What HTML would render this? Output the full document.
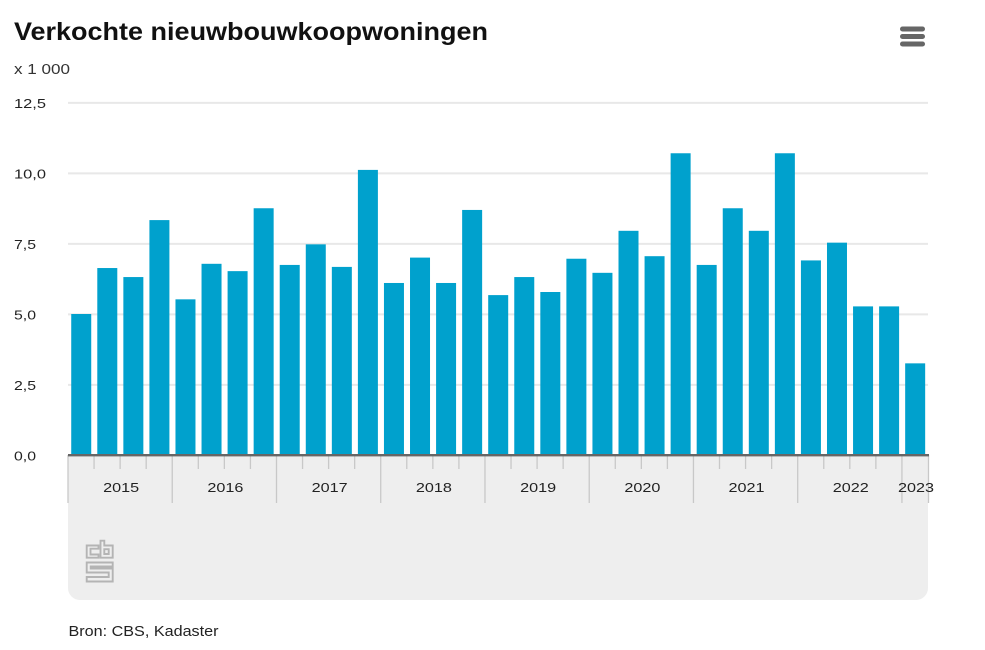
<!DOCTYPE html>
<html lang="nl">
<head>
<meta charset="utf-8">
<title>Verkochte nieuwbouwkoopwoningen</title>
<style>
html,body{margin:0;padding:0;background:#fff;width:985px;height:650px;overflow:hidden}
svg{display:block}
text{font-family:"Liberation Sans",sans-serif}
</style>
</head>
<body>
<svg id="chart" width="985" height="650" viewBox="0 0 985 650" xmlns="http://www.w3.org/2000/svg">
  <text x="14" y="40" font-size="25" font-weight="700" fill="#111" textLength="474" lengthAdjust="spacingAndGlyphs">Verkochte nieuwbouwkoopwoningen</text>
  <text x="14" y="74" font-size="14.5" fill="#333" textLength="56" lengthAdjust="spacingAndGlyphs">x 1 000</text>
  <g fill="#666">
    <rect x="900" y="26.500" width="25" height="5" rx="2.5"/>
    <rect x="900" y="34" width="25" height="5" rx="2.5"/>
    <rect x="900" y="41.500" width="25" height="5" rx="2.5"/>
  </g>
  <path d="M68 455H928V588a12 12 0 0 1-12 12H80a12 12 0 0 1-12-12Z" fill="#eeeeee"/>
  <g id="grid"></g>
  <g id="bars"></g>
  <g id="ticks"></g>
  <rect x="68" y="454" width="861" height="2.4" fill="#666"/>
  <g id="ylabels"></g>
  <g id="xlabels"></g>
  <g fill="none" stroke="#b4b4b4" stroke-width="1.900">
    <path d="M98.500 545.500H86.700V557.700H98.500V554.500H90.500V548.700H98.500Z"/>
    <path d="M100.500 540.700H104.300V545.500H112.700V557.700H100.500ZM104.300 549.200H108.700V554H104.300Z"/>
    <path d="M112.700 562.500H86.700V572.500H108.700V577H86.700V581.500H112.700V568.500H90.700V566.500H112.700Z"/>
  </g>
  <text x="68.500" y="636" font-size="15" fill="#222" textLength="150" lengthAdjust="spacingAndGlyphs">Bron: CBS, Kadaster</text>
</svg>
<script>
const quarters = ["2015-K1","2015-K2","2015-K3","2015-K4","2016-K1","2016-K2","2016-K3","2016-K4","2017-K1","2017-K2","2017-K3","2017-K4","2018-K1","2018-K2","2018-K3","2018-K4","2019-K1","2019-K2","2019-K3","2019-K4","2020-K1","2020-K2","2020-K3","2020-K4","2021-K1","2021-K2","2021-K3","2021-K4","2022-K1","2022-K2","2022-K3","2022-K4","2023-K1"];
const soldHomes = [5.0,6.63,6.31,8.33,5.52,6.78,6.52,8.75,6.74,7.47,6.67,10.11,6.1,7.0,6.1,8.69,5.67,6.31,5.78,6.96,6.46,7.95,7.05,10.7,6.74,8.75,7.95,10.7,6.9,7.53,5.27,5.27,3.25];
const yTicks = [0,2.5,5,7.5,10,12.5];
const yTickLabels = ["0,0","2,5","5,0","7,5","10,0","12,5"];
const years = ["2015","2016","2017","2018","2019","2020","2021","2022","2023"];

const NS = "http://www.w3.org/2000/svg";
const plotLeft = 68, plotRight = 928, plotBottom = 455, plotTop = 102.5, yMax = 12.5;
const step = (plotRight - plotLeft) / quarters.length;
function yScale(v){ return plotBottom - (v / yMax) * (plotBottom - plotTop); }
function xScale(i){ return plotLeft + step * i; }
function make(tag, attrs, parent, txt){
  const el = document.createElementNS(NS, tag);
  for (const k in attrs) el.setAttribute(k, attrs[k]);
  if (txt !== undefined) el.textContent = txt;
  parent.appendChild(el);
  return el;
}
const gridG = document.getElementById("grid");
const barsG = document.getElementById("bars");
const ticksG = document.getElementById("ticks");
const yG = document.getElementById("ylabels");
const xG = document.getElementById("xlabels");

yTicks.forEach(function(t, i){
  if (t > 0) {
    const line = make("line", {x1: plotLeft, x2: plotRight, y1: yScale(t) + 0.4, y2: yScale(t) + 0.4, stroke: "#e8e8e8", "stroke-width": 2}, gridG);
    
    
  }
  const label = make("text", {x: 14, y: yScale(t) + 5.5, "font-size": 13, fill: "#222", textLength: yTickLabels[i].length > 3 ? 32 : 22, lengthAdjust: "spacingAndGlyphs"}, yG, yTickLabels[i]);
  
  
});

soldHomes.forEach(function(v, i){
  const left = xScale(i) + step / 2 - 9.8;
  const bar = make("rect", {x: left, y: yScale(v), width: 20, height: plotBottom - yScale(v), fill: "#00a1cd"}, barsG);
  
  
});

quarters.forEach(function(q, i){
  const isYearStart = i % 4 === 0;
  const tick = make("line", {x1: xScale(i), x2: xScale(i), y1: plotBottom, y2: isYearStart ? 503 : 469, stroke: "#c8c8c8", "stroke-width": 1.3}, ticksG);
  
  
});
const endTick = make("line", {x1: plotRight + 0.5, x2: plotRight + 0.5, y1: plotBottom, y2: 503, stroke: "#c8c8c8", "stroke-width": 1.3}, ticksG);



years.forEach(function(y, i){
  const first = i * 4;
  const count = Math.min(4, quarters.length - first);
  const label = make("text", {x: xScale(first) + step * count / 2 + 1, y: 492, "font-size": 13, "text-anchor": "middle", fill: "#222", textLength: 36, lengthAdjust: "spacingAndGlyphs"}, xG, y);
  
  
});
</script>
</body>
</html>
